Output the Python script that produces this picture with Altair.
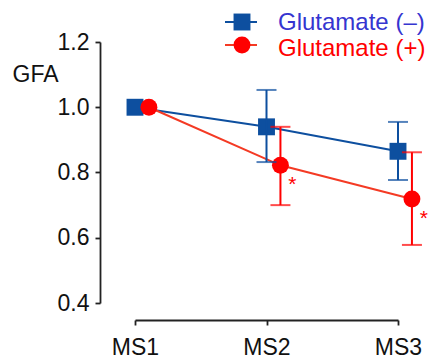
import altair as alt
import pandas as pd

stages = ["MS1", "MS2", "MS3"]
series = ["Glutamate (–)", "Glutamate (+)"]

minus_mean = [1.0, 0.94, 0.865]
minus_lo = [None, 0.832, 0.777]
minus_hi = [None, 1.053, 0.955]

plus_mean = [1.0, 0.822, 0.719]
plus_lo = [None, 0.70, 0.578]
plus_hi = [None, 0.94, 0.862]
plus_sig = ["", "*", "*"]

rows = []
for i, st in enumerate(stages):
    rows.append(dict(idx=i, stage=st, series=series[0], mean=minus_mean[i],
                     lo=minus_lo[i], hi=minus_hi[i], sig=""))
for i, st in enumerate(stages):
    rows.append(dict(idx=i, stage=st, series=series[1], mean=plus_mean[i],
                     lo=plus_lo[i], hi=plus_hi[i], sig=plus_sig[i]))
df = pd.DataFrame(rows)

BLUE = "#0d4f9f"
RED = "#ff0000"
RED_LINE = "#f43a24"
BLUE_TEXT = "#3535d0"

is_plus = f"datum.series === '{series[1]}'"

base = alt.Chart(df).transform_calculate(
    xpos=f"datum.idx + ({is_plus} ? 0.106 : 0)"
)

xenc = alt.X(
    "xpos:Q",
    scale=alt.Scale(domain=[0, 2], nice=False, zero=False),
    axis=alt.Axis(
        values=[0, 1, 2],
        labelExpr=f"{stages}[datum.value]",
        labelFlush=False,
        title=None,
        offset=17,
        grid=False,
        tickSize=5,
        labelFontSize=23,
        labelPadding=11,
        domainWidth=1.8,
        tickWidth=1.8,
        domainColor="#222222",
        tickColor="#222222",
        labelColor="#111111",
    ),
)

yscale = alt.Scale(domain=[0.4, 1.2], nice=False, zero=False)
yaxis = alt.Axis(
    values=[0.4, 0.5, 0.6, 0.7, 0.8, 0.9, 1.0, 1.1, 1.2],
    labelExpr="round(datum.value * 10) % 2 == 0 ? format(datum.value, '.1f') : ''",
    labelFlush=False,
    title="GFA",
    titleAngle=0,
    titleAlign="left",
    titleBaseline="alphabetic",
    titleX=-88,
    titleY=39,
    titleFontSize=23,
    titleFontWeight="normal",
    titleColor="#111111",
    offset=35,
    grid=False,
    tickSize=5,
    labelFontSize=23,
    labelPadding=6,
    domainWidth=1.8,
    tickWidth=1.8,
    domainColor="#222222",
    tickColor="#222222",
    labelColor="#111111",
)

color = alt.Color("series:N", scale=alt.Scale(domain=series, range=[BLUE, RED]), legend=None)
shape = alt.Shape("series:N", scale=alt.Scale(domain=series, range=["square", "circle"]), legend=None)

lines = base.mark_line(strokeWidth=2).encode(
    x=xenc,
    y=alt.Y("mean:Q", scale=yscale, axis=yaxis),
    detail="series:N",
    color=alt.condition(is_plus, alt.value(RED_LINE), alt.value(BLUE)),
)

points = base.mark_point(filled=True, size=286, opacity=1, strokeWidth=0).encode(
    x="xpos:Q",
    y="mean:Q",
    color=color,
    shape=shape,
)

err = base.transform_filter("isValid(datum.lo)")

rules = err.mark_rule(strokeWidth=2).encode(
    x="xpos:Q",
    y="lo:Q",
    y2="hi:Q",
    color=color,
)

caps = err.transform_fold(["lo", "hi"], as_=["end", "val"]).mark_tick(
    orient="horizontal", size=20, thickness=2
).encode(
    x="xpos:Q",
    y="val:Q",
    color=color,
)

stars = base.transform_filter("datum.sig != ''").mark_text(
    dx=12, dy=20, fontSize=21, align="center", baseline="middle", color=RED
).encode(
    x="xpos:Q",
    y="mean:Q",
    text="sig:N",
)

main = alt.layer(lines, points, rules, caps, stars)

leg_df = pd.DataFrame({"series": series})
ly = alt.Y("series:N", scale=alt.Scale(type="point", domain=series, range=[-20, 3], padding=0), axis=None)
ly_txt = alt.Y("series:N", scale=alt.Scale(type="point", domain=series, range=[-19, 7], padding=0), axis=None)
leg_base = alt.Chart(leg_df)
leg_line = leg_base.mark_rule(strokeWidth=2).encode(
    x=alt.value(90), x2=alt.value(122), y=ly,
    color=alt.condition(is_plus, alt.value(RED_LINE), alt.value(BLUE)),
)
leg_pt = leg_base.mark_point(filled=True, size=286, opacity=1, strokeWidth=0).encode(
    x=alt.value(107), y=ly, color=color, shape=shape,
)
leg_txt = leg_base.mark_text(align="left", baseline="middle", fontSize=24).encode(
    x=alt.value(143), y=ly_txt, text="series:N",
    color=alt.condition(is_plus, alt.value(RED), alt.value(BLUE_TEXT)),
)
legend = alt.layer(leg_line, leg_pt, leg_txt).resolve_scale(y="independent")

chart = alt.layer(main, legend).resolve_scale(y="independent").properties(
    width=263,
    height=261,
    autosize=alt.AutoSizeParams(type="none"),
    padding={"left": 135, "top": 42, "right": 32, "bottom": 57},
).configure(
    font="Liberation Sans",
).configure_view(stroke=None)

chart.save("out.html", embed_options={"renderer": "svg", "actions": False})
